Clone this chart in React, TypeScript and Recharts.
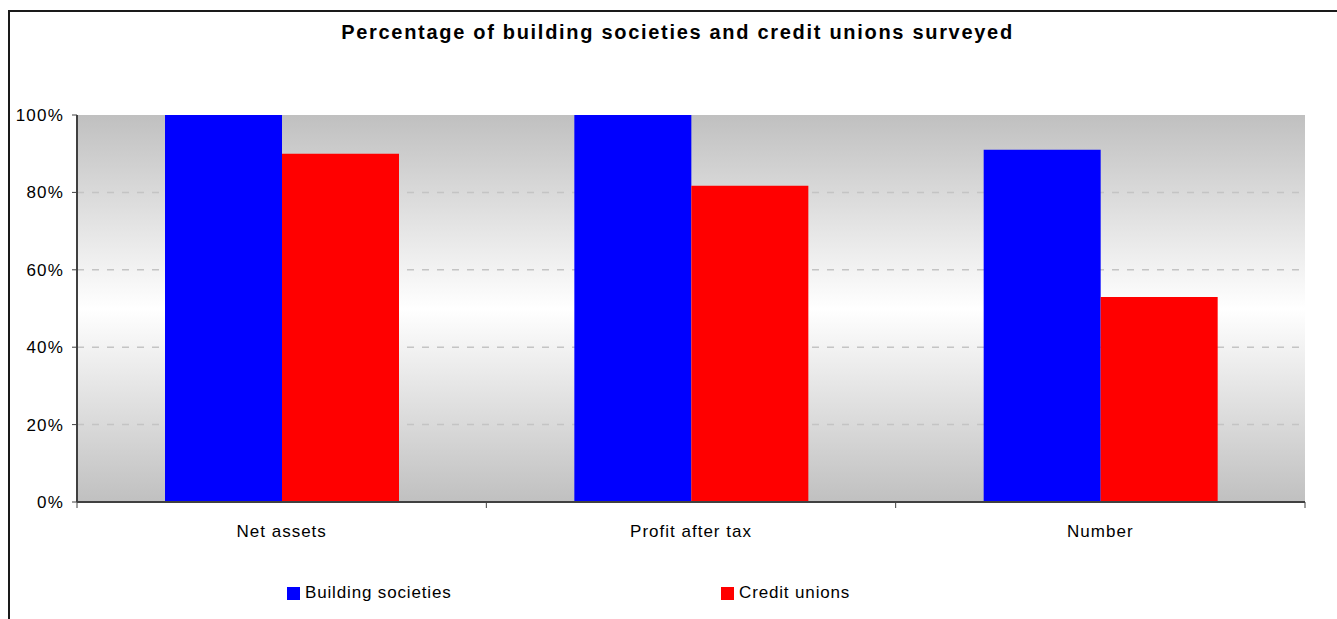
import { BarChart, Bar, XAxis, YAxis, CartesianGrid } from 'recharts';

// Survey coverage by category
const categories = ['Net assets', 'Profit after tax', 'Number'];
const buildingSocieties = [100, 100, 91];
const creditUnions = [90, 81.7, 53];
const yTicks = [0, 20, 40, 60, 80, 100];
const gridValues = [20, 40, 60, 80];

const data = categories.map((name, i) => ({
  name,
  building: buildingSocieties[i],
  credit: creditUnions[i],
}));

const CHART_W = 1337;
const CHART_H = 619;
const PLOT_LEFT = 77;
const PLOT_RIGHT = 1305;
const BAND = (PLOT_RIGHT - PLOT_LEFT) / categories.length;

const font = '"Liberation Sans", Arial, sans-serif';

// Category label at the centre, tick marks at the band edges (Excel style)
function CategoryTick(props: any) {
  const { x, y, payload, index } = props;
  return (
    <g>
      <line x1={x + BAND / 2} x2={x + BAND / 2} y1={y - 8} y2={y - 2} stroke="#404040" strokeWidth={1} />
      {index === 0 && (
        <line x1={x - BAND / 2} x2={x - BAND / 2} y1={y - 8} y2={y - 2} stroke="#404040" strokeWidth={1} />
      )}
      <text x={x} y={y + 27} textAnchor="middle" fontSize={17} letterSpacing={1} fill="#000" fontFamily={font}>
        {payload.value}
      </text>
    </g>
  );
}

const legendStyle = {
  position: 'absolute' as const,
  top: 583,
  display: 'flex',
  alignItems: 'center',
  fontSize: 17,
  letterSpacing: 0.85,
  color: '#000',
};

export default function App() {
  return (
    <div style={{ position: 'absolute', left: 0, top: 0, width: CHART_W, height: CHART_H, overflow: 'hidden', background: '#fff', fontFamily: font }}>
      {/* outer chart frame, runs off the right and bottom edges */}
      <div style={{ position: 'absolute', left: 8, top: 10, width: 1400, height: 700, border: '2px solid #1a1a1a' }} />

      <div style={{ position: 'absolute', left: 9, top: 21, width: CHART_W, textAlign: 'center', fontSize: 20, fontWeight: 'bold', letterSpacing: 1.7, color: '#000' }}>
        Percentage of building societies and credit unions surveyed
      </div>

      <div style={{ position: 'absolute', left: 0, top: 0 }}>
        <BarChart
          width={CHART_W}
          height={CHART_H}
          data={data}
          margin={{ top: 115, right: CHART_W - PLOT_RIGHT, bottom: CHART_H - 502 - 30, left: 17 }}
          barCategoryGap="21.5%"
          barGap={0}
        >
          <defs>
            <linearGradient id="plotBg" x1="0" y1="0" x2="0" y2="1">
              <stop offset="0%" stopColor="#c0c0c0" />
              <stop offset="50%" stopColor="#ffffff" />
              <stop offset="100%" stopColor="#c0c0c0" />
            </linearGradient>
          </defs>
          <CartesianGrid
            vertical={false}
            horizontalValues={gridValues}
            stroke="#c4c4c4"
            strokeWidth={1.5}
            strokeDasharray="7 8"
            fill="url(#plotBg)"
            fillOpacity={1}
          />
          <XAxis
            dataKey="name"
            height={30}
            axisLine={{ stroke: '#404040', strokeWidth: 2 }}
            tickLine={false}
            tick={<CategoryTick />}
            interval={0}
          />
          <XAxis xAxisId="top" orientation="top" dataKey="name" height={0} tick={false} tickLine={false} axisLine={{ stroke: '#808080', strokeWidth: 2 }} />
          <YAxis
            width={60}
            domain={[0, 100]}
            ticks={yTicks}
            tickFormatter={(v: number) => `${v}%`}
            axisLine={{ stroke: '#404040', strokeWidth: 2 }}
            tickLine={{ stroke: '#404040' }}
            tickSize={5}
            tickMargin={8}
            tick={{ fontSize: 17, letterSpacing: 1.2, fill: '#000', fontFamily: font }}
          />
          <YAxis yAxisId="right" orientation="right" width={0} domain={[0, 100]} tick={false} tickLine={false} axisLine={{ stroke: '#808080', strokeWidth: 2 }} />
          <Bar dataKey="building" name="Building societies" fill="#0000ff" isAnimationActive={false} />
          <Bar dataKey="credit" name="Credit unions" fill="#ff0000" isAnimationActive={false} />
        </BarChart>
      </div>

      {/* legend */}
      <div style={{ ...legendStyle, left: 287 }}>
        <span style={{ display: 'inline-block', width: 13, height: 13, background: '#0000ff', marginRight: 5 }} />
        Building societies
      </div>
      <div style={{ ...legendStyle, left: 721 }}>
        <span style={{ display: 'inline-block', width: 13, height: 13, background: '#ff0000', marginRight: 5 }} />
        Credit unions
      </div>
    </div>
  );
}
